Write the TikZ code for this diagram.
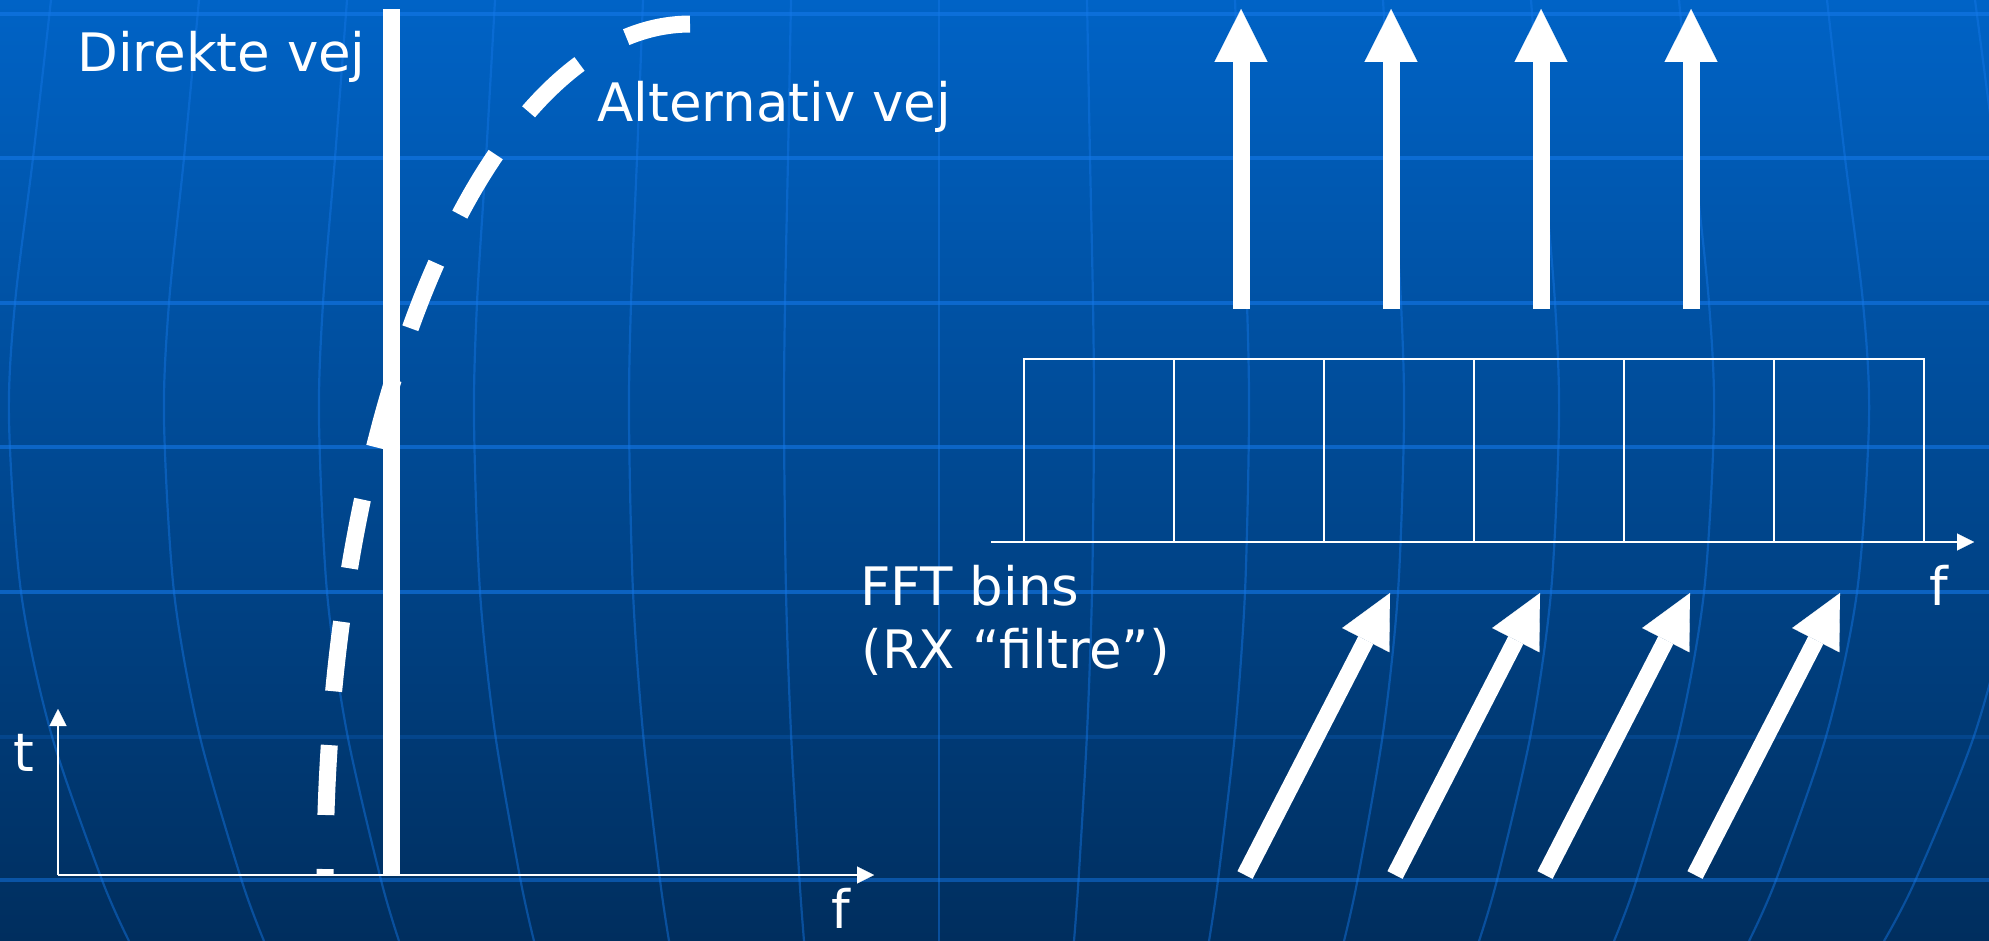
\documentclass[tikz,border=0pt]{standalone}
\usepackage{fontspec}
\newfontfamily\lblfont{DejaVu Sans}
\usetikzlibrary{arrows.meta}
\definecolor{bgtop}{RGB}{0,99,198}
\definecolor{bgbot}{RGB}{0,46,94}
\definecolor{gridc}{RGB}{20,120,232}
\begin{document}
\begin{tikzpicture}[x=0.5pt,y=-0.5pt,
  lbl/.style={font=\lblfont\fontsize{26.5}{32}\selectfont, text=white, inner sep=0pt, anchor=base west},
  hgrid/.style={draw=gridc, line width=1.8pt},
  vgrid/.style={draw=gridc, line width=1.1pt, opacity=0.45},
  axisline/.style={draw=white, line width=1.2pt, -{Triangle[length=8.5pt,width=8.5pt,line width=0.1pt]}},
  binline/.style={draw=white, line width=1.1pt},
  fat/.style={draw=white, line width=8.5pt},
  fatarrow/.style={fat, -{Triangle[length=26.5pt,width=26.5pt,line width=0.1pt]}},
]
\useasboundingbox (0,0) rectangle (1989,941);
\shade[top color=bgtop, bottom color=bgbot] (0,0) rectangle (1989,941);
\begin{scope}
\clip (0,0) rectangle (1989,941);
\foreach \yy/\op in {14/0.6,158/0.6,303/0.6,447/0.6,592/0.6,737/0.2,880/0.5}
  \draw[hgrid, opacity=\op] (0,\yy) -- (1989,\yy);
\foreach \i in {-7,...,7}
  \draw[vgrid] plot[smooth] coordinates {({939+\i*148},0) ({939+\i*151},158) ({939+\i*154},303) ({939+\i*155},420) ({939+\i*153},592) ({939+\i*148},733) ({939+\i*139.5},880) ({939+\i*135},941)};
\end{scope}
% alternative path (dashed elliptic arc)
\coordinate (altstart) at (325,875);
\coordinate (altend) at (690,24);
\draw[white, line width=8.5pt, dash pattern=on 35pt off 27pt, dash phase=32pt]
  plot[domain=180:90, samples=150, variable=\t] ({690+365*cos(\t)}, {875-851*sin(\t)});
% direct path
\coordinate (dbot) at (391.5,875);
\coordinate (dtop) at (391.5,9);
\draw[fat] (dbot) -- (dtop);
% axes
\coordinate (O) at (58,875);
\coordinate (tend) at (58,709);
\coordinate (fend) at (874,875);
\draw[axisline] (O) -- (tend);
\draw[axisline] (O) -- (fend);
% labels
\node[lbl] (direkte) at (77,72) {Direkte vej};
\node[lbl] (alt) at (597,122) {Alternativ vej};
\node[lbl] (fft) at (860,605) {FFT bins};
\node[lbl] (rx) at (861,668) {(RX “filtre”)};
\node[lbl] (tl) at (13,771) {t};
\node[lbl, anchor=base] (fl) at (841,928) {f};
\node[lbl, anchor=base] (fr) at (1939,605) {f};
% bins
\draw[binline] (1024,359) rectangle (1924,542);
\foreach \k in {1,...,5}
  \draw[binline] ({1024+150*\k},359) -- ({1024+150*\k},542);
\coordinate (ba0) at (991,542);
\coordinate (ba1) at (1974,542);
\draw[axisline] (ba0) -- (ba1);
% up arrows
\foreach \k in {0,...,3}{
  \coordinate (us\k) at ({1241+150*\k},309);
  \coordinate (ue\k) at ({1241+150*\k},9);
  \draw[fatarrow] (us\k) -- (ue\k);
}
% diagonal arrows
\foreach \k in {0,...,3}{
  \coordinate (ds\k) at ({1245+150*\k},875);
  \coordinate (de\k) at ({1390+150*\k},593);
  \draw[fatarrow] (ds\k) -- (de\k);
}
\end{tikzpicture}
\end{document}
